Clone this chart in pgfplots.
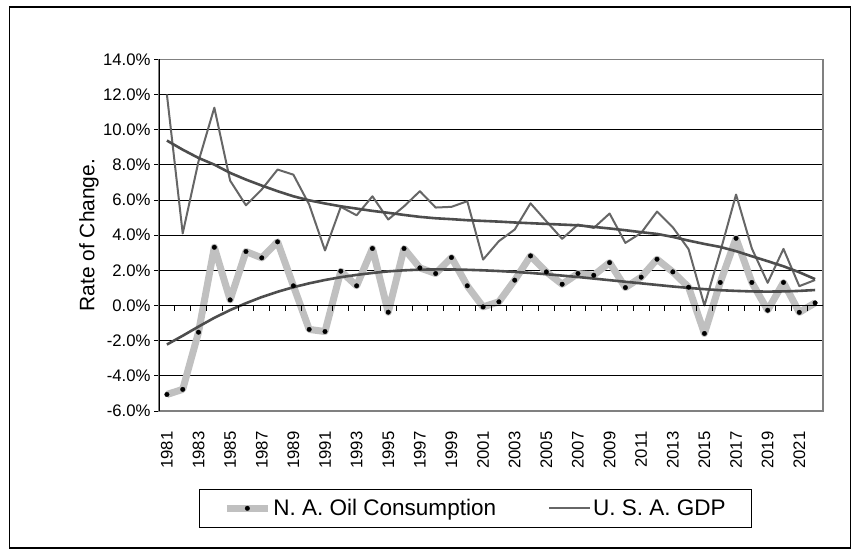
\documentclass[border=0pt]{standalone}
\usepackage{pgfplots}
\pgfplotsset{compat=1.18}
\usepackage{fontspec}
\setmainfont{Liberation Sans}
\definecolor{oilgray}{HTML}{C0C0C0}
\definecolor{gdpgray}{HTML}{666666}
\definecolor{trendgray}{HTML}{4D4D4D}
\definecolor{bordergray}{HTML}{808080}

\pgfplotstableread{
year oil gdp
1981 -5.06 12.00
1982 -4.77 4.10
1983 -1.52 8.20
1984 3.31 11.25
1985 0.32 7.10
1986 3.07 5.70
1987 2.71 6.60
1988 3.62 7.73
1989 1.12 7.44
1990 -1.36 5.74
1991 -1.48 3.13
1992 1.95 5.61
1993 1.12 5.13
1994 3.24 6.21
1995 -0.38 4.89
1996 3.24 5.64
1997 2.14 6.50
1998 1.82 5.57
1999 2.73 5.61
2000 1.12 5.93
2001 -0.08 2.61
2002 0.21 3.66
2003 1.44 4.32
2004 2.82 5.81
2005 1.91 4.79
2006 1.21 3.79
2007 1.82 4.60
2008 1.72 4.41
2009 2.44 5.23
2010 1.02 3.56
2011 1.61 4.13
2012 2.63 5.34
2013 1.91 4.45
2014 1.04 3.20
2015 -1.59 0.00
2016 1.31 3.05
2017 3.82 6.31
2018 1.31 3.24
2019 -0.27 1.29
2020 1.31 3.22
2021 -0.39 1.10
2022 0.15 1.45
}\datatable

\pgfplotstableread{
year oiltr gdptr
1981 -2.22 9.38
1982 -1.72 8.86
1983 -1.20 8.39
1984 -0.70 8.01
1985 -0.26 7.54
1986 0.13 7.16
1987 0.48 6.82
1988 0.78 6.50
1989 1.04 6.21
1990 1.26 5.98
1991 1.45 5.80
1992 1.61 5.64
1993 1.74 5.51
1994 1.85 5.38
1995 1.94 5.27
1996 2.00 5.15
1997 2.04 5.04
1998 2.05 4.96
1999 2.05 4.91
2000 2.03 4.85
2001 2.00 4.81
2002 1.96 4.77
2003 1.91 4.72
2004 1.85 4.68
2005 1.78 4.64
2006 1.70 4.60
2007 1.62 4.56
2008 1.53 4.47
2009 1.44 4.38
2010 1.35 4.28
2011 1.26 4.17
2012 1.17 4.07
2013 1.08 3.90
2014 1.00 3.69
2015 0.93 3.50
2016 0.87 3.33
2017 0.83 3.09
2018 0.80 2.80
2019 0.79 2.52
2020 0.80 2.23
2021 0.83 1.89
2022 0.88 1.50
}\trendtable

\begin{document}
\begin{tikzpicture}
\path[use as bounding box] (0bp,0bp) rectangle (859bp,-554bp);
\draw[black, line width=1.2bp] (9.5bp,-7bp) rectangle (850.5bp,-548bp);
\begin{axis}[
  at={(159bp,-411bp)}, anchor=south west,
  scale only axis, width=664bp, height=351.7bp,
  xmin=1980.5, xmax=2022.5, ymin=-6, ymax=14,
  axis line style={draw=bordergray, line width=1.2bp},
  ytick={-6,-4,...,14},
  yticklabels={-6.0\%,-4.0\%,-2.0\%,0.0\%,2.0\%,4.0\%,6.0\%,8.0\%,10.0\%,12.0\%,14.0\%},
  xtick={1981,1983,...,2021},
  xticklabels={1981,1983,1985,1987,1989,1991,1993,1995,1997,1999,2001,2003,2005,2007,2009,2011,2013,2015,2017,2019,2021},
  x tick style={draw=none},
  ytick pos=left,
  tick align=outside,
  major tick length=5bp,
  y tick style={black, line width=0.9bp},
  ymajorgrids,
  grid style={black, line width=0.8bp},
  tick label style={font=\fontsize{16.8}{19}\selectfont},
  xticklabel style={rotate=90, anchor=east},
  xticklabel shift=12bp,
  ylabel={Rate of Change.},
  ylabel style={at={(axis description cs:-0.1054,0.5)}, anchor=center, font=\fontsize{21}{24}\selectfont},
  legend columns=2,
  legend style={at={(axis description cs:0.0602,-0.2218)}, anchor=north west,
    draw=black, line width=0.8bp, font=\fontsize{22.6}{26}\selectfont,
    inner xsep=24bp, inner ysep=8bp,
    /tikz/every even column/.append style={column sep=50bp}},
  legend image code/.code={\draw[mark repeat=2,mark phase=2,#1] plot coordinates {(0bp,0bp) (20.5bp,0bp) (41bp,0bp)};},
]
\addplot[oilgray, line width=7bp, line join=round, mark=*, mark size=2.3bp,
  mark options={fill=black, draw=black, line width=0.3bp}] table[x=year,y=oil] {\datatable};
\addlegendentry{N. A. Oil Consumption}
\addplot[gdpgray, line width=2bp, line join=round] table[x=year,y=gdp] {\datatable};
\addlegendentry{U. S. A. GDP}
\addplot[trendgray, line width=2.6bp, forget plot] table[x=year,y=oiltr] {\trendtable};
\addplot[trendgray, line width=2.6bp, forget plot] table[x=year,y=gdptr] {\trendtable};
\draw[black, line width=1bp] (axis cs:1980.5,0) -- (axis cs:2022.5,0);
\pgfplotsinvokeforeach{1981,...,2021}{\draw[black, line width=0.9bp] (axis cs:#1.5,0) -- ++(0pt,-5.5bp);}
\draw[black, line width=1.2bp] (rel axis cs:0,0) -- (rel axis cs:0,1);
\end{axis}
\end{tikzpicture}
\end{document}
